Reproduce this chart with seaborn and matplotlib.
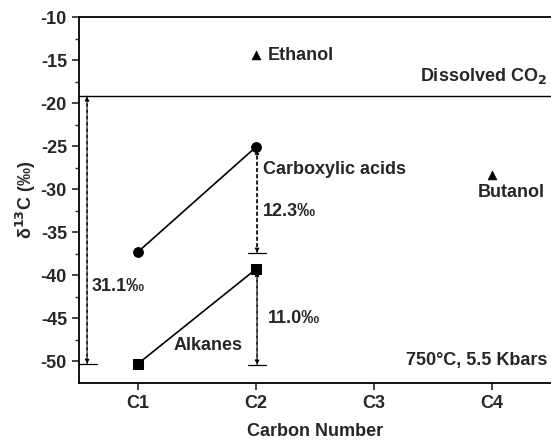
import matplotlib
matplotlib.use("Agg")
import matplotlib.pyplot as plt
import seaborn as sns
import pandas as pd

# carbon number positions and labels
carbon_pos = [1, 2, 3, 4]
carbon_labels = ["C1", "C2", "C3", "C4"]

# measured delta 13C values (per mil)
acids_x = [1, 2]
acids_y = [-37.3, -25.1]
alkanes_x = [1, 2]
alkanes_y = [-50.3, -39.3]
ethanol = (2, -14.4)
butanol = (4, -28.3)
dissolved_co2 = -19.2

sns.set_theme(style="ticks")
plt.rcParams["font.family"] = ["Liberation Sans", "DejaVu Sans"]
plt.rcParams["font.weight"] = "bold"
plt.rcParams["axes.unicode_minus"] = False

fig = plt.figure(figsize=(5.51, 4.40), dpi=100)
ax = fig.add_axes([0.143, 0.13, 0.857, 0.831])

acids = pd.DataFrame({"x": acids_x, "y": acids_y})
alkanes = pd.DataFrame({"x": alkanes_x, "y": alkanes_y})
sns.lineplot(data=acids, x="x", y="y", color="black", lw=1.2, marker="o",
             markersize=7, markeredgecolor="black", ax=ax)
sns.lineplot(data=alkanes, x="x", y="y", color="black", lw=1.2, marker="s",
             markersize=6.5, markeredgecolor="black", ax=ax)
singles = pd.DataFrame({"x": [ethanol[0], butanol[0]], "y": [ethanol[1], butanol[1]]})
sns.scatterplot(data=singles, x="x", y="y", marker="^", s=40, color="black",
                edgecolor="black", ax=ax)

ax.axhline(dissolved_co2, color="black", lw=1.0)

# dashed difference arrows
def diff_arrow(x, top, bottom):
    ax.annotate("", xy=(x, top), xytext=(x, bottom),
                arrowprops=dict(arrowstyle="-|>", ls=(0, (2.5, 2.5)), color="black",
                                lw=0.9, mutation_scale=6, shrinkA=0, shrinkB=0))
    ax.annotate("", xy=(x, bottom), xytext=(x, top),
                arrowprops=dict(arrowstyle="-|>", ls=(0, (2.5, 2.5)), color="black",
                                lw=0.9, mutation_scale=6, shrinkA=0, shrinkB=0))
    ax.plot([x - 0.08, x + 0.08], [bottom, bottom], color="black", lw=0.9)

diff_arrow(0.57, dissolved_co2, -50.3)
diff_arrow(2.01, -25.4, -37.4)
diff_arrow(2.01, -39.6, -50.4)

fs = 13
ax.text(2.1, -14.4, "Ethanol", fontsize=fs, fontweight="bold", va="center")
ax.text(4.47, -18.0, "Dissolved CO$_\\mathbf{2}$", fontsize=fs, fontweight="bold",
        ha="right", va="bottom")
ax.text(2.06, -27.7, "Carboxylic acids", fontsize=fs, fontweight="bold", va="center")
ax.text(2.06, -32.6, "12.3‰", fontsize=fs, fontweight="bold", va="center")
ax.text(4.16, -30.4, "Butanol", fontsize=fs, fontweight="bold", ha="center", va="center")
ax.text(0.61, -41.3, "31.1‰", fontsize=fs, fontweight="bold", va="center")
ax.text(1.89, -48.2, "Alkanes", fontsize=fs, fontweight="bold", ha="right", va="center")
ax.text(2.1, -45.0, "11.0‰", fontsize=fs, fontweight="bold", va="center")
ax.text(4.47, -49.9, "750°C, 5.5 Kbars", fontsize=fs, fontweight="bold",
        ha="right", va="center")

ax.set_xlim(0.5, 4.5)
ax.set_ylim(-52.5, -10)
ax.set_xticks(carbon_pos)
ax.set_xticklabels(carbon_labels)
ax.set_yticks([-50, -45, -40, -35, -30, -25, -20, -15, -10])
ax.set_yticks([-47.5, -42.5, -37.5, -32.5, -27.5, -22.5, -17.5, -12.5], minor=True)
ax.tick_params(axis="both", which="major", direction="out", length=5, width=1.2,
               labelsize=fs)
ax.tick_params(axis="y", which="minor", direction="out", length=3, width=1.0)
for lab in ax.get_xticklabels() + ax.get_yticklabels():
    lab.set_fontweight("bold")

ax.set_xlabel("Carbon Number", fontsize=fs, fontweight="bold", labelpad=8)
ax.set_ylabel("δ$^{\\mathbf{13}}$C (‰)", fontsize=fs, fontweight="bold", labelpad=2)

for side in ["left", "bottom", "top"]:
    ax.spines[side].set_linewidth(1.3)
    ax.spines[side].set_color("black")
ax.spines["right"].set_visible(False)
ax.spines["top"].set_visible(True)

fig.savefig("out.png", dpi=100)
